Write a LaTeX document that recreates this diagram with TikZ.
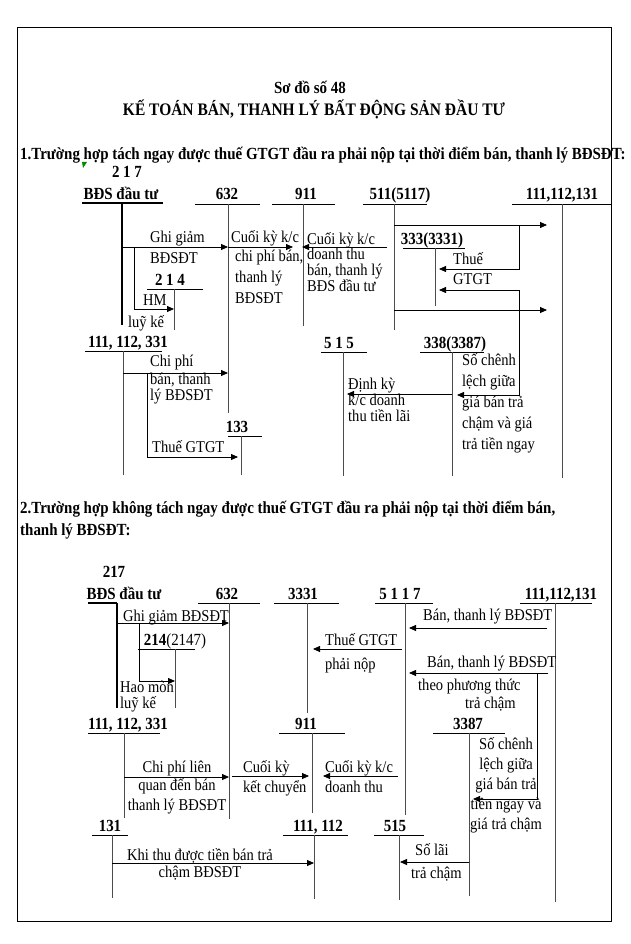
\documentclass[tikz,border=0pt]{standalone}
\usepackage{fontspec}
\setmainfont{Liberation Serif}[FakeStretch=0.88]
\usetikzlibrary{arrows.meta}
\AtBeginDocument{\lineskiplimit=-20pt}

\begin{document}
\begin{tikzpicture}[x=1pt,y=-1pt,
 acct/.style={font=\fontsize{17}{17}\selectfont\bfseries,inner sep=0pt,anchor=base},
 tl/.style={line width=0.9pt,black},
 vl/.style={line width=1pt,black!70},
 thk/.style={line width=2pt,black},
 arr/.style={line width=0.8pt,-{Triangle[length=7pt,width=6pt]}},
 lb/.style={font=\fontsize{16.5}{21}\selectfont,inner sep=0pt,anchor=north west,align=left,yshift=1.5pt,execute at begin node=\rule{0pt}{14.5pt}},
 lbt/.style={lb,font=\fontsize{16.5}{16}\selectfont},
 lbc/.style={lb,anchor=north,align=center,font=\fontsize{16.5}{20}\selectfont}]
\useasboundingbox (0,0) rectangle (631,944);
\draw[line width=1pt] (17,28) rectangle (611,921);
% title and headings
\node[acct] (tno) at (310,94) {Sơ đồ số 48};
\node[acct,font=\fontsize{17.6}{17}\selectfont\bfseries] (ttl) at (314,116) {KẾ TOÁN BÁN, THANH LÝ BẤT ĐỘNG SẢN ĐẦU TƯ};
\node[acct,anchor=base west] (hd1) at (20,160) {1.Trường hợp tách ngay được thuế GTGT đầu ra phải nộp tại thời điểm bán, thanh lý BĐSĐT:};
\node[acct,anchor=base west] (hd2) at (20,513) {2.Trường hợp không tách ngay được thuế GTGT đầu ra phải nộp tại thời điểm bán,};
\node[acct,anchor=base west] (hd2b) at (20,535) {thanh lý BĐSĐT:};
\fill[green!55!black] (82,162) -- (87,162) -- (83,168) -- cycle;
% T-accounts
\foreach \nm/\tx/\lx/\xa/\xb/\yy/\xv/\yb in {
 a632/632/227/195/260/204/228/413, a911/911/306/272/335/204/303/326,
 a5117/{511(5117)}/400/363/427/204/394/330, a111/{111,112,131}/562/512/611/204/562/478,
 a214/{2 1 4}/170/147/203/289/174/330, a3331/{333(3331)}/432/403/465/248/435/306,
 a331/{111, 112, 331}/128/85/162/351/123/475, a133/133/237/228/262/436/241/475,
 a515/{5 1 5}/339/321/367/352/343/476, a3387/{338(3387)}/455/420/484/352/452/476,
 b632/632/227/198/260/603/229/819, b3331/3331/303/274/339/603/307/713,
 b5117/{5 1 1 7}/400/375/433/603/405/815, b111/{111,112,131}/561/520/592/603/555/902,
 b214/{214{\mdseries(2147)}}/175/138/195/649/175/708, b331/{111, 112, 331}/128/88/160/733/124/818,
 b911/911/306/279/345/733/312/813, b3387/3387/468/433/505/733/469/896,
 b131/131/110/92/128/835/112/898, b112/{111, 112}/318/283/348/835/314/899,
 b515/515/395/374/424/835/399/900}
{
 \node[acct] (k\nm) at (\lx,\yy-4) {\tx};
 \draw[tl] (\xa,\yy) -- (\xb,\yy);
 \coordinate (s\nm) at (\xv,\yy);
 \draw[vl] (s\nm) -- (\xv,\yb);
}
\node[acct] (na217) at (127,178) {2 1 7};
\node[acct] (ka217) at (121,199) {BĐS đầu tư};
\draw[thk] (82,203) -- (163,203);
\coordinate (sa217) at (122,203);
\draw[thk] (sa217) -- (122,325);
\node[acct] (nb217) at (114,577) {217};
\node[acct] (kb217) at (124,599) {BĐS đầu tư};
\draw[thk] (88,603) -- (117,603);
\coordinate (sb217) at (117,603);
\draw[thk] (sb217) -- (117,708);
% section 1 entries
\draw[arr] (sa217 |- 0,247) -- (sa632 |- 0,247);
\draw[arr] (134,247) |- (sa214 |- 0,309);
\draw[arr,shorten >=10pt] (sa632 |- 0,247) -- (sa911 |- 0,247);
\draw[arr,shorten <=7pt,shorten >=-1pt] (sa5117 |- 0,247) -- (sa911 |- 0,247);
\draw[arr,shorten >=15pt] (sa5117 |- 0,225) -- (sa111 |- 0,225);
\draw[arr,shorten >=4pt] (519,225) |- (sa3331 |- 0,269);
\draw[line width=0.8pt,{Triangle[length=7pt,width=6pt]}-{Triangle[length=7pt,width=6pt]},shorten <=4pt,shorten >=5pt]
 (sa3331 |- 0,290) -| (519,395) -- (sa3387 |- 0,395);
\draw[arr,shorten >=15pt] (sa5117 |- 0,310) -- (sa111 |- 0,310);
\draw[arr,shorten >=4pt] (sa3387 |- 0,394) -- (sa515 |- 0,394);
\draw[arr] (sa331 |- 0,373) -- (sa632 |- 0,373);
\draw[arr,shorten >=3pt] (147,373) |- (sa133 |- 0,457);
\node[lb] (la1) at (150,229) {Ghi giảm};
\node[lb] (la2) at (150,250) {BĐSĐT};
\node[lb] (la3) at (143,292) {HM};
\node[lb] (la4) at (128,314) {luỹ kế};
\node[lb] (la5) at (231,229) {Cuối kỳ k/c};
\node[lb] (la6) at (235,251) {chi phí bán,\\thanh lý\\BĐSĐT};
\node[lb] (la7) at (307,231) {Cuối kỳ k/c};
\node[lbt] (la8) at (307,249) {doanh thu\\bán, thanh lý\\BĐS đầu tư};
\node[lb] (la9) at (453,251) {Thuế};
\node[lb] (la10) at (453,271) {GTGT};
\node[lb] (la11) at (150,353) {Chi phí};
\node[lbt] (la12) at (150,374) {bán, thanh\\lý BĐSĐT};
\node[lb] (la13) at (152,439) {Thuế GTGT};
\node[lbt] (la14) at (348,379) {Định kỳ\\k/c doanh\\thu tiền lãi};
\node[lb] (la15) at (462,355) {Số chênh\\lệch giữa\\giá bán trả\\chậm và giá\\trả tiền ngay};
% section 2 entries
\draw[arr] (sb217 |- 0,623) -- (sb632 |- 0,623);
\draw[arr] (139,623) |- (sb214 |- 0,681);
\draw[arr,shorten <=8pt,shorten >=4pt] (sb111 |- 0,628) -- (sb5117 |- 0,628);
\draw[arr,shorten <=3pt,shorten >=6pt] (sb5117 |- 0,649) -- (sb3331 |- 0,649);
\draw[arr,shorten <=7pt,shorten >=4pt] (sb111 |- 0,673) -- (sb5117 |- 0,673);
\draw[arr,shorten >=4pt] (537,673) |- (sb3387 |- 0,799);
\draw[arr] (sb331 |- 0,777) -- (sb632 |- 0,777);
\draw[arr,shorten <=3pt,shorten >=3pt] (sb632 |- 0,776) -- (sb911 |- 0,776);
\draw[arr,shorten <=7pt,shorten >=11pt] (sb5117 |- 0,776) -- (sb911 |- 0,776);
\draw[arr] (sb131 |- 0,863) -- (sb112 |- 0,863);
\draw[arr,shorten >=1pt] (sb3387 |- 0,862) -- (sb515 |- 0,862);
\node[lb] (lb1) at (123,608) {Ghi giảm BĐSĐT};
\node[lbt] (lb2) at (120,682) {Hao mòn\\luỹ kế};
\node[lb] (lb3) at (423,607) {Bán, thanh lý BĐSĐT};
\node[lb] (lb4) at (325,632) {Thuế GTGT};
\node[lb] (lb5) at (325,656) {phải nộp};
\node[lb] (lb6) at (427,654) {Bán, thanh lý BĐSĐT};
\node[lb] (lb7) at (418,677) {theo phương thức};
\node[lb] (lb8) at (465,695) {trả chậm};
\node[lbc] (lb9) at (506,739) {Số chênh\\lệch giữa\\giá bán trả\\tiền ngay và\\giá trả chậm};
\node[lbc] (lb10) at (177,759) {Chi phí liên};
\node[lbc] (lb11) at (177,780) {quan đến bán\\thanh lý BĐSĐT};
\node[lb] (lb12) at (243,759) {Cuối kỳ};
\node[lb] (lb13) at (243,779) {kết chuyển};
\node[lb] (lb14) at (325,759) {Cuối kỳ k/c};
\node[lb] (lb15) at (325,779) {doanh thu};
\node[lbc] (lb16) at (200,847) {Khi thu được tiền bán trả};
\node[lbc] (lb17) at (200,864) {chậm BĐSĐT};
\node[lb] (lb18) at (415,842) {Số lãi};
\node[lb] (lb19) at (411,865) {trả chậm};
\end{tikzpicture}
\end{document}
